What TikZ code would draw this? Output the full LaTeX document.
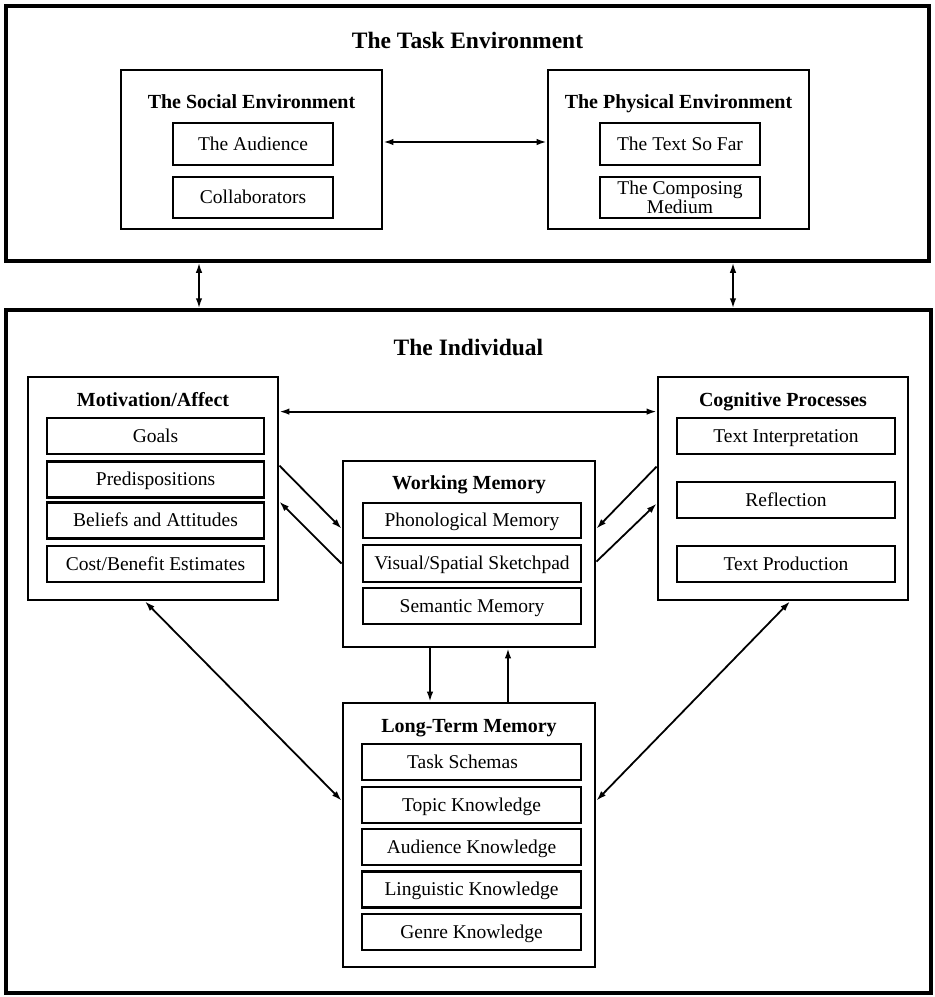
\documentclass[tikz,border=0pt]{standalone}
\usepackage{fontspec}
\setmainfont{Liberation Serif}
\usetikzlibrary{arrows.meta}
\begin{document}
\begin{tikzpicture}[x=1pt,y=-1pt,
  outer/.style={draw,line width=3.5pt,inner sep=0pt},
  group/.style={draw,line width=2.8pt,inner sep=0pt},
  box/.style={draw,line width=2.2pt,inner sep=0pt,align=center,
    font=\fontsize{19.5}{17.5}\selectfont},
  item/.style={box,text height=16pt,text depth=4pt,
    minimum width=218pt,minimum height=36pt},
  envitem/.style={box,text height=16pt,text depth=4pt,
    minimum width=160pt,minimum height=42pt},
  head/.style={font=\fontsize{20}{22}\selectfont\bfseries,inner sep=0pt,anchor=base},
  title/.style={font=\fontsize{23.5}{26}\selectfont\bfseries,inner sep=0pt,anchor=base},
  tip/.tip={Latex[length=10pt,width=6.5pt]},
  link/.style={line width=1.8pt,-tip},
  both/.style={line width=1.8pt,tip-tip}]

\useasboundingbox (0,0) rectangle (935,997);

% ---------- the task environment ----------
\node[outer,minimum width=923pt,minimum height=255pt] (taskenv) at (467.5,133.5) {};
\node[title] (tasktitle) at (467.5,48) {The Task Environment};

\node[group,minimum width=261pt,minimum height=159pt] (social) at (251.5,149.5) {};
\node[head] (socialhead) at (251.5,108.6) {The Social Environment};
\node[envitem] (audience) at (253,144) {The Audience};
\node[envitem,minimum height=41pt] (collab) at (253,197.5) {Collaborators};

\node[group,minimum width=261pt,minimum height=159pt] (physical) at (678.5,149.5) {};
\node[head] (physicalhead) at (678.5,108.6) {The Physical Environment};
\node[envitem] (textsofar) at (680,144) {The Text So Far};
\node[box,minimum width=160pt,minimum height=41pt] (composing) at (680,197.5) {The Composing\\Medium};

\draw[both] (social.east |- 0,142) -- (physical.west |- 0,142);

% ---------- the individual ----------
\node[outer,minimum width=925pt,minimum height=683pt] (individual) at (468.5,651.5) {};
\node[title] (indtitle) at (468.5,355) {The Individual};

% motivation / affect
\node[group,minimum width=250pt,minimum height=223pt] (motivation) at (153,488.5) {};
\node[head] (mothead) at (153,406.6) {Motivation/Affect};
\node[item,minimum width=217pt] (goals) at (155.5,436) {Goals};
\node[item,minimum width=217pt] (predisp) at (155.5,479.5) {Predispositions};
\node[item,minimum width=217pt] (beliefs) at (155.5,520.5) {Beliefs and Attitudes};
\node[item,minimum width=217pt] (cost) at (155.5,564) {Cost/Benefit Estimates};

% cognitive processes
\node[group,minimum width=250pt,minimum height=223pt] (cognitive) at (783,488.5) {};
\node[head] (coghead) at (783,406.6) {Cognitive Processes};
\node[item] (interp) at (786,436) {Text Interpretation};
\node[item] (reflection) at (786,500) {Reflection};
\node[item] (production) at (786,564) {Text Production};

% working memory
\node[group,minimum width=252pt,minimum height=186pt] (wm) at (469,554) {};
\node[head] (wmhead) at (469,489.6) {Working Memory};
\node[item,minimum height=35pt] (phon) at (472,520.5) {Phonological Memory};
\node[item,minimum height=37pt] (visual) at (472,563.5) {Visual/Spatial Sketchpad};
\node[item] (semantic) at (472,606) {Semantic Memory};

% long-term memory
\node[group,minimum width=252pt,minimum height=264pt] (ltm) at (469,835) {};
\node[head] (ltmhead) at (469,732.6) {Long-Term Memory};
\node[item,minimum width=219pt] (schemas) at (471.5,762) {Task Schemas\hspace{18pt}};
\node[item,minimum width=219pt] (topic) at (471.5,805) {Topic Knowledge};
\node[item,minimum width=219pt] (audknow) at (471.5,847) {Audience Knowledge};
\node[item,minimum width=219pt] (ling) at (471.5,889.5) {Linguistic Knowledge};
\node[item,minimum width=219pt] (genre) at (471.5,932) {Genre Knowledge};

% ---------- connectors ----------
\coordinate (leftlink) at (199,0);
\coordinate (rightlink) at (733,0);
\draw[both] (leftlink |- taskenv.south) -- (leftlink |- individual.north);
\draw[both] (rightlink |- taskenv.south) -- (rightlink |- individual.north);

\draw[both] ([yshift=-36pt]motivation.north east) -- ([yshift=-36pt]cognitive.north west);

\draw[link] ([yshift=-90pt]motivation.north east) -- ([yshift=-69pt]wm.north west);
\draw[link] ([yshift=-104pt]wm.north west) -- ([yshift=-126pt]motivation.north east);
\draw[link] ([yshift=-91pt]cognitive.north west) -- ([yshift=-69pt]wm.north east);
\draw[link] ([yshift=-102pt]wm.north east) -- ([yshift=-128pt]cognitive.north west);

\draw[link] ([xshift=-39pt]wm.south) -- ([xshift=-39pt]ltm.north);
\draw[link] ([xshift=39pt]ltm.north) -- ([xshift=39pt]wm.south);

\draw[both] ([xshift=-8pt]motivation.south) -- ([yshift=-99pt]ltm.north west);
\draw[both] ([xshift=7pt]cognitive.south) -- ([yshift=-99pt]ltm.north east);
\end{tikzpicture}
\end{document}
